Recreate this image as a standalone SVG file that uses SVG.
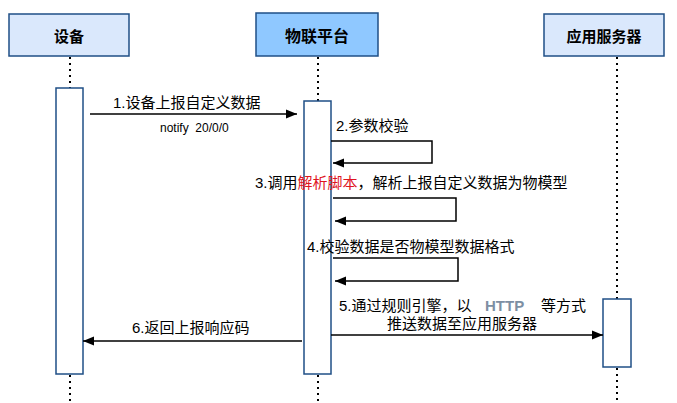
<svg xmlns="http://www.w3.org/2000/svg" width="677" height="403" viewBox="0 0 677 403">
<style>
text{font-family:"Liberation Sans","Noto Sans CJK SC",sans-serif;fill:#000}
.head{stroke:#1f4f86;stroke-width:1.5}
.act{fill:#fff;stroke:#1f4f86;stroke-width:1.5}
.life{stroke:#000;stroke-width:2;stroke-dasharray:2 4;fill:none}
.msg{stroke:#000;stroke-width:1.5;fill:none}
.t{font-size:15px}
.h{font-size:15px;font-weight:bold;text-anchor:middle}
</style>
<defs>
<marker id="ah" markerUnits="userSpaceOnUse" markerWidth="12" markerHeight="10" refX="11" refY="5" orient="auto">
<path d="M0,0.5 L11,5 L0,9.5 Z" fill="#000"/>
</marker>
</defs>
<g id="lifelines">
<path class="life" d="M70,57 V88 M70,375 V403"/>
<path class="life" d="M318,57 V101 M318,375 V403"/>
<path class="life" d="M617,57 V299 M617,368 V403"/>
</g>
<g id="device">
<rect class="head" x="9" y="14" width="120" height="42" fill="#dae8fc"/>
<text class="h" x="69" y="42">设备</text>
<rect class="act" x="56" y="88" width="27" height="286"/>
</g>
<g id="platform">
<rect class="head" x="256" y="13" width="122" height="43" fill="#8fc8ff"/>
<text class="h" x="317" y="42" style="font-size:16px">物联平台</text>
<rect class="act" x="304" y="101" width="27" height="273"/>
</g>
<g id="appserver">
<rect class="head" x="544" y="14" width="120" height="42" fill="#dae8fc"/>
<text class="h" x="604" y="42">应用服务器</text>
<rect class="act" x="603" y="299" width="28" height="68"/>
</g>
<g id="connectors">
<path class="msg" d="M90,114 H297" marker-end="url(#ah)"/>
<path class="msg" d="M331,141 H432 V163 H333" marker-end="url(#ah)"/>
<path class="msg" d="M333,198 H456 V221 H335" marker-end="url(#ah)"/>
<path class="msg" d="M333,258 H458 V281 H335" marker-end="url(#ah)"/>
<path class="msg" d="M331,335 H603" marker-end="url(#ah)"/>
<path class="msg" d="M302,341 H83" marker-end="url(#ah)"/>
</g>
<g id="labels">
<text class="t" x="113" y="108">1.设备上报自定义数据</text>
<text x="160" y="132" style="font-size:12px;white-space:pre" xml:space="preserve">notify  20/0/0</text>
<text class="t" x="336" y="131">2.参数校验</text>
<text class="t" x="255" y="188">3.调用<tspan style="fill:#e0141e">解析脚本</tspan>，解析上报自定义数据为物模型</text>
<text class="t" x="307" y="252">4.校验数据是否物模型数据格式</text>
<text class="t" x="339" y="311">5.通过规则引擎，以</text>
<text class="t" x="485" y="311" style="font-weight:bold;fill:#7d8fa3">HTTP</text>
<text class="t" x="541" y="311">等方式</text>
<text class="t" x="462" y="329" text-anchor="middle">推送数据至应用服务器</text>
<text class="t" x="132" y="333">6.返回上报响应码</text>
</g>
</svg>
